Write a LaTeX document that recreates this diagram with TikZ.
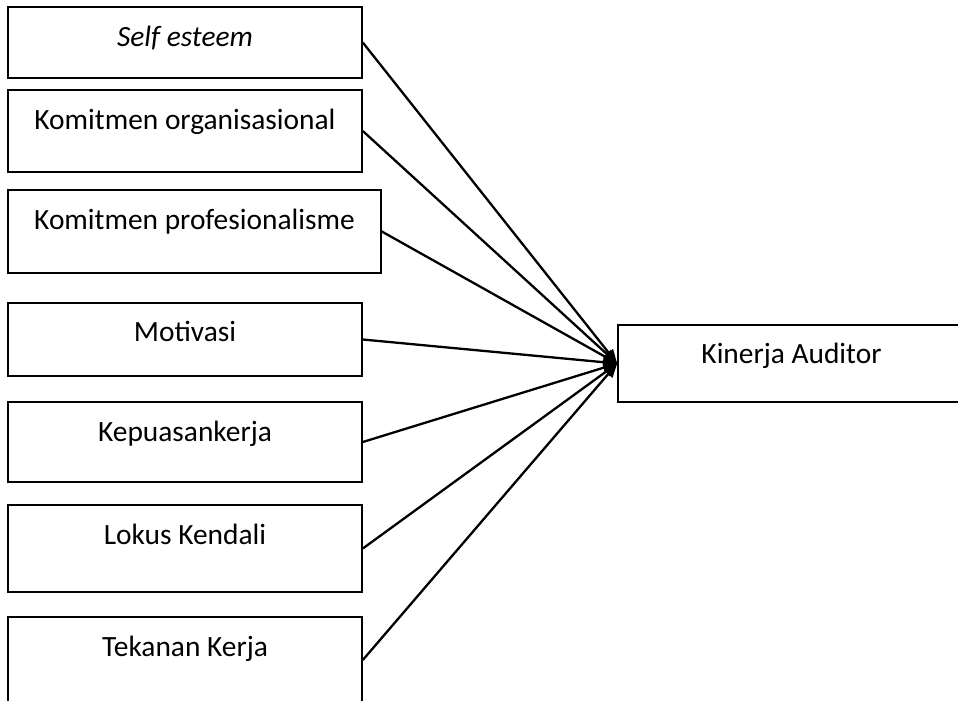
\documentclass[tikz,border=0pt]{standalone}
\usepackage{fontspec}
\setmainfont{Carlito}
\usetikzlibrary{arrows.meta}
\begin{document}
\begin{tikzpicture}[x=1pt,y=-1pt,
  box/.style={draw, line width=1.6pt, inner sep=0pt, rectangle},
  lbl/.style={anchor=base, font=\fontsize{29.4}{35}\selectfont, inner sep=0pt},
  link/.style={line width=2.3pt, -{Triangle[length=14pt,width=11pt]}}]
\useasboundingbox (0,0) rectangle (958,701);
\clip (0,0) rectangle (958,701);
\node[box, minimum width=354pt, minimum height=71pt] (b1) at (185,42.5) {};
\node[box, minimum width=354pt, minimum height=82pt] (b2) at (185,131) {};
\node[box, minimum width=373pt, minimum height=83pt] (b3) at (194.5,231.5) {};
\node[box, minimum width=354pt, minimum height=73pt] (b4) at (185,339.5) {};
\node[box, minimum width=354pt, minimum height=80pt] (b5) at (185,442) {};
\node[box, minimum width=354pt, minimum height=87pt] (b6) at (185,548.5) {};
\node[box, minimum width=354pt, minimum height=86pt] (b7) at (185,660) {};
\node[box, minimum width=347pt, minimum height=77pt] (t) at (791.5,363.5) {};
\node[lbl] (l1) at ([yshift=-40pt]b1.north) {\textit{Self esteem}};
\node[lbl] (l2) at ([yshift=-40pt]b2.north) {Komitmen organisasional};
\node[lbl] (l3) at ([yshift=-40pt]b3.north) {Komitmen profesionalisme};
\node[lbl] (l4) at ([yshift=-39pt]b4.north) {Motivasi};
\node[lbl] (l5) at ([yshift=-40pt]b5.north) {Kepuasankerja};
\node[lbl] (l6) at ([yshift=-40pt]b6.north) {Lokus Kendali};
\node[lbl] (l7) at ([yshift=-40pt]b7.north) {Tekanan Kerja};
\node[lbl] (lt) at ([yshift=-39pt]t.north) {Kinerja Auditor};
\foreach \b in {b1,b2,b3,b4,b5,b6,b7}
  \draw[link] (\b.east) -- (t.west);
\end{tikzpicture}
\end{document}
